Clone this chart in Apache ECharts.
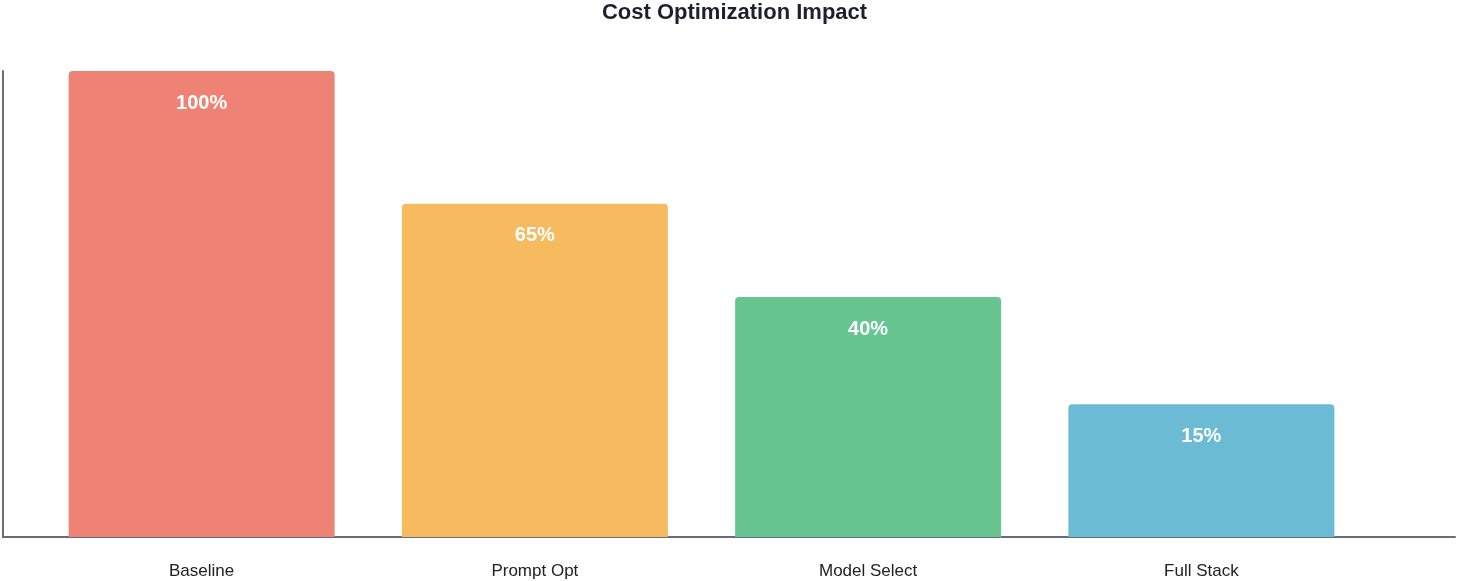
<!DOCTYPE html>
<html>
<head>
<meta charset="utf-8">
<script src="https://cdn.jsdelivr.net/npm/echarts@6/dist/echarts.min.js"></script>
<style>html,body{margin:0;padding:0;background:#fff}#chart{width:1469px;height:581px}</style>
</head>
<body>
<div id="chart"></div>
<script>
const categories = ["Baseline", "Prompt Opt", "Model Select", "Full Stack"];
// bar heights as drawn in the picture
const barValues = [100, 71.5, 51.5, 28.5];
// labels shown on bars
const barLabels = ["100%", "65%", "40%", "15%"];
const barColors = ["#ee8375", "#f5bb5e", "#66c590", "#6bbbd4"];

const font = "Liberation Sans";
const chart = echarts.init(document.getElementById("chart"));
chart.setOption({
    animation: false,
    title: {
        text: "Cost Optimization Impact",
        left: "center",
        top: -3,
        textStyle: {fontFamily: font, fontSize: 22, fontWeight: "bold", color: "#1f1f2e"}
    },
    grid: [
        {left: 3, right: 14, top: 71, bottom: 44},
        {left: 35, right: 101, top: 71, bottom: 44}
    ],
    xAxis: [
        {
            gridIndex: 0, type: "value", min: 0, max: 1,
            axisLine: {show: true, lineStyle: {color: "#6b6b80", width: 2}},
            axisTick: {show: false}, axisLabel: {show: false}, splitLine: {show: false}
        },
        {
            gridIndex: 1, type: "category", data: categories,
            axisLine: {show: false}, axisTick: {show: false},
            axisLabel: {fontFamily: font, fontSize: 17, color: "#222", margin: 26}
        }
    ],
    yAxis: [
        {
            gridIndex: 0, type: "value", min: 0, max: 100,
            axisLine: {show: true, lineStyle: {color: "#6b6b80", width: 2}},
            axisTick: {show: false}, axisLabel: {show: false}, splitLine: {show: false}
        },
        {
            gridIndex: 1, type: "value", min: 0, max: 100,
            axisLine: {show: false}, axisTick: {show: false},
            axisLabel: {show: false}, splitLine: {show: false}
        }
    ],
    series: [{
        type: "bar",
        xAxisIndex: 1,
        yAxisIndex: 1,
        barWidth: 266,
        data: barValues.map((v, i) => ({
            value: v,
            itemStyle: {color: barColors[i], borderRadius: [4, 4, 0, 0]}
        })),
        label: {
            show: true,
            position: "insideTop",
            distance: 22,
            formatter: p => barLabels[p.dataIndex],
            fontFamily: font,
            fontSize: 20,
            fontWeight: "bold",
            color: "#fff"
        }
    }]
});
</script>
</body>
</html>
